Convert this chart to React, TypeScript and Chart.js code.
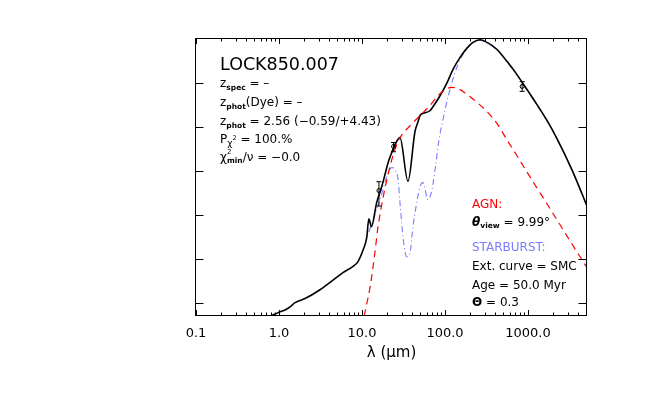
import React, { useEffect, useRef } from "react";
import { Chart, registerables } from "chart.js";

Chart.register(...registerables);

const FONT = '"DejaVu Sans", "Liberation Sans", sans-serif';

// Total model SED (black solid): wavelength (µm) and log flux (arbitrary units)
const TOTAL_WAVE = [0.78, 0.9, 1.03, 1.18, 1.36, 1.56, 2.06, 3.12, 4.48, 5.9, 7.8, 8.95, 10.3, 11.4, 12.1, 13.0, 15.0, 17.3, 18.9, 20.6, 22.8, 25.0, 28.7, 35.8, 43.5, 47.3, 50.0, 54.3, 65.9, 71.6, 87.1, 106, 125, 152, 184, 217, 264, 321, 424, 558, 737, 920, 1283, 1694, 2234, 3388, 5140];
const TOTAL_FLUX = [-0.3, -0.25, -0.2, -0.16, -0.09, 0.01, 0.1, 0.3, 0.52, 0.69, 0.83, 0.94, 1.2, 1.48, 1.91, 1.73, 2.27, 2.64, 2.91, 3.18, 3.41, 3.59, 3.75, 2.76, 3.89, 4.11, 4.25, 4.3, 4.36, 4.45, 4.7, 5.0, 5.3, 5.57, 5.78, 5.91, 5.97, 5.91, 5.75, 5.48, 5.18, 4.91, 4.5, 4.14, 3.73, 3.02, 2.2];

// AGN torus component (red dashed)
const AGN_WAVE = [10.6, 12.5, 14.3, 15.6, 21.7, 26.2, 28.7, 37.9, 50.0, 65.9, 82.4, 103, 121, 152, 184, 243, 321, 424, 558, 737, 1057, 1841, 3206, 5140];
const AGN_FLUX = [-0.3, 0.36, 1.14, 1.73, 3.09, 3.59, 3.75, 4.02, 4.25, 4.48, 4.7, 4.85, 4.89, 4.84, 4.73, 4.55, 4.34, 4.07, 3.7, 3.34, 2.86, 2.14, 1.41, 0.8];

// Starburst component (blue dash-dot)
const SB_WAVE = [12.1, 16.5, 20.6, 22.8, 25.0, 27.2, 28.7, 31.2, 34.6, 37.9, 41.1, 45.6, 50.0, 54.3, 62.4, 69.7, 75.8, 84.7, 94.6, 109, 132, 152, 184, 217, 264, 321, 424, 558, 737, 920, 1283, 1694, 2234, 3388, 5140];
const SB_FLUX = [1.61, 2.34, 2.95, 3.07, 3.02, 2.8, 2.27, 1.5, 1.05, 1.14, 1.73, 2.27, 2.64, 2.73, 2.34, 2.57, 3.02, 3.7, 4.16, 4.68, 5.23, 5.52, 5.77, 5.9, 5.96, 5.9, 5.74, 5.47, 5.17, 4.9, 4.49, 4.13, 3.72, 3.01, 2.19];

// Observed photometry with error bars
const OBS_WAVE = [16, 24, 850];
const OBS_FLUX = [2.55, 3.55, 4.91];
const OBS_LO = [2.2, 3.43, 4.8];
const OBS_HI = [2.75, 3.64, 5.02];

// Axes
const X_MIN = 0.1;
const X_MAX = 5140;
const Y_MIN = -0.295;
const Y_MAX = 6.01;
const X_TICKS = [0.1, 1, 10, 100, 1000];
const X_TICK_LABELS = ["0.1", "1.0", "10.0", "100.0", "1000.0"];
const X_MINOR_MULT = [2, 3, 4, 5, 6, 7, 8, 9];
const Y_TICKS = [0, 1, 2, 3, 4, 5, 6];
const X_TITLE = "λ (μm)";

// Annotation texts
const SOURCE_NAME = "LOCK850.007";
const Z_SPEC = " = –";
const Z_DYE = "(Dye) = –";
const Z_PHOT = " = 2.56 (−0.59/+4.43)";
const P_CHI = " = 100.%";
const CHI_MIN = "/ν = −0.0";
const AGN_TITLE = "AGN:";
const THETA_VIEW = " = 9.99°";
const SB_TITLE = "STARBURST:";
const EXT_CURVE = "Ext. curve = SMC";
const AGE = "Age = 50.0 Myr";
const THETA = " = 0.3";

const RED = "#ff0000";
const BLUE = "#7b7bff";

type Seg = { t: string; size?: number; bold?: boolean; italic?: boolean; dy?: number; stack?: boolean };

function drawRich(ctx: CanvasRenderingContext2D, x: number, y: number, segs: Seg[], color: string) {
  let cx = x;
  let stackW = 0;
  ctx.fillStyle = color;
  ctx.textAlign = "left";
  ctx.textBaseline = "alphabetic";
  for (const s of segs) {
    const size = s.size ?? 12;
    ctx.font = `${s.italic ? "italic " : ""}${s.bold ? "bold " : ""}${size}px ${FONT}`;
    ctx.fillText(s.t, cx, y + (s.dy ?? 0));
    const w = ctx.measureText(s.t).width;
    if (s.stack) {
      stackW = Math.max(stackW, w);
    } else {
      cx += Math.max(w, stackW);
      stackW = 0;
    }
  }
}

const framePlugin = {
  id: "idlFrame",
  afterDraw(chart: any) {
    const { ctx, chartArea: a, scales } = chart;
    const xs = scales.x;
    const ys = scales.y;
    ctx.save();
    ctx.strokeStyle = "#000";
    ctx.lineWidth = 1;
    const L = Math.round(a.left) - 0.5;
    const R = Math.round(a.right) - 0.5;
    const T = Math.round(a.top) + 0.5;
    const B = Math.round(a.bottom) - 0.5;
    ctx.strokeRect(L, T, R - L, B - T);
    ctx.beginPath();
    // x ticks: majors at decades, minors in between (top and bottom)
    for (const d of X_TICKS) {
      const major = Math.round(xs.getPixelForValue(d)) + 0.5;
      ctx.moveTo(major, B); ctx.lineTo(major, B - 5.5);
      ctx.moveTo(major, T); ctx.lineTo(major, T + 5.5);
      for (const m of X_MINOR_MULT) {
        const v = d * m;
        if (v > X_MAX) continue;
        const px = Math.round(xs.getPixelForValue(v)) + 0.5;
        ctx.moveTo(px, B); ctx.lineTo(px, B - 3);
        ctx.moveTo(px, T); ctx.lineTo(px, T + 3);
      }
    }
    for (const v of Y_TICKS) {
      const py = Math.round(ys.getPixelForValue(v)) + 0.5;
      ctx.moveTo(L, py); ctx.lineTo(L + 8, py);
      ctx.moveTo(R, py); ctx.lineTo(R - 8, py);
    }
    ctx.stroke();

    // error bars
    ctx.beginPath();
    OBS_WAVE.forEach((w, i) => {
      const px = xs.getPixelForValue(w);
      const lo = ys.getPixelForValue(OBS_LO[i]);
      const hi = ys.getPixelForValue(OBS_HI[i]);
      ctx.moveTo(px, lo); ctx.lineTo(px, hi);
      ctx.moveTo(px - 2.5, lo); ctx.lineTo(px + 2.5, lo);
      ctx.moveTo(px - 2.5, hi); ctx.lineTo(px + 2.5, hi);
    });
    ctx.stroke();

    // annotations
    const lx = 220;
    drawRich(ctx, lx, 70, [{ t: SOURCE_NAME, size: 17.5 }], "#000");
    drawRich(ctx, lx, 87, [{ t: "z" }, { t: "spec", size: 7.5, bold: true, dy: 3 }, { t: Z_SPEC }], "#000");
    drawRich(ctx, lx, 106, [{ t: "z" }, { t: "phot", size: 7.5, bold: true, dy: 3 }, { t: Z_DYE }], "#000");
    drawRich(ctx, lx, 125, [{ t: "z" }, { t: "phot", size: 7.5, bold: true, dy: 3 }, { t: Z_PHOT }], "#000");
    drawRich(ctx, lx, 143, [{ t: "P" }, { t: "χ", size: 9, dy: 3 }, { t: "2", size: 6.5, dy: -3 }, { t: P_CHI }], "#000");
    drawRich(ctx, lx, 161, [{ t: "χ" }, { t: "2", size: 7, dy: -7, stack: true }, { t: "min", size: 7.5, bold: true, dy: 2 }, { t: CHI_MIN }], "#000");

    const rx = 472;
    drawRich(ctx, rx, 208, [{ t: AGN_TITLE }], RED);
    drawRich(ctx, rx, 226, [{ t: "θ", bold: true, italic: true }, { t: "view", size: 7.5, bold: true, dy: 2 }, { t: THETA_VIEW }], "#000");
    drawRich(ctx, rx, 251, [{ t: SB_TITLE }], BLUE);
    drawRich(ctx, rx, 270, [{ t: EXT_CURVE }], "#000");
    drawRich(ctx, rx, 288.5, [{ t: AGE }], "#000");
    drawRich(ctx, rx, 306, [{ t: "Θ", bold: true }, { t: THETA }], "#000");
    ctx.restore();
  },
};

function toPoints(xs: number[], ys: number[]) {
  return xs.map((x, i) => ({ x, y: ys[i] }));
}

export default function App() {
  const ref = useRef<HTMLCanvasElement>(null);
  useEffect(() => {
    document.body.style.margin = "0";
    const chart = new Chart(ref.current as HTMLCanvasElement, {
      type: "line",
      data: {
        datasets: [
          {
            label: "Observed",
            data: toPoints(OBS_WAVE, OBS_FLUX),
            showLine: false,
            pointRadius: 2,
            pointStyle: "circle",
            borderColor: "#000",
            backgroundColor: "rgba(0,0,0,0)",
            borderWidth: 1,
            order: -1,
          },
          {
            label: "AGN",
            data: toPoints(AGN_WAVE, AGN_FLUX),
            borderColor: RED,
            borderWidth: 1.2,
            borderDash: [7, 5],
            pointRadius: 0,
            cubicInterpolationMode: "monotone",
            order: 0,
          },
          {
            label: "Total",
            data: toPoints(TOTAL_WAVE, TOTAL_FLUX),
            borderColor: "#000",
            borderWidth: 1.6,
            pointRadius: 0,
            cubicInterpolationMode: "monotone",
            order: 1,
          },
          {
            label: "Starburst",
            data: toPoints(SB_WAVE, SB_FLUX),
            borderColor: BLUE,
            borderWidth: 1.1,
            borderDash: [6, 3, 1, 3],
            pointRadius: 0,
            cubicInterpolationMode: "monotone",
            order: 2,
          },
        ],
      },
      options: {
        animation: false,
        responsive: false,
        devicePixelRatio: 1,
        layout: { padding: { left: 196, right: 66, top: 38, bottom: 0 } },
        plugins: { legend: { display: false }, tooltip: { enabled: false } },
        scales: {
          x: {
            type: "logarithmic",
            min: X_MIN,
            max: X_MAX,
            afterBuildTicks: (s: any) => {
              s.ticks = X_TICKS.map((v) => ({ value: v }));
            },
            afterFit: (s: any) => {
              s.height = 80;
            },
            grid: { display: false, drawTicks: false },
            border: { display: false },
            ticks: {
              autoSkip: false,
              maxRotation: 0,
              padding: 10,
              color: "#000",
              font: { family: FONT, size: 13 },
              callback: (v: any) => {
                const i = X_TICKS.findIndex((t) => Math.abs(t - Number(v)) / t < 1e-6);
                return i >= 0 ? X_TICK_LABELS[i] : "";
              },
            },
            title: {
              display: true,
              text: X_TITLE,
              color: "#000",
              font: { family: FONT, size: 15 },
              padding: { top: 0, bottom: 34 },
            },
          },
          y: {
            type: "linear",
            display: false,
            min: Y_MIN,
            max: Y_MAX,
          },
        },
      },
      plugins: [framePlugin],
    } as any);
    return () => chart.destroy();
  }, []);
  return (
    <div style={{ width: 653, height: 396 }}>
      <canvas ref={ref} width={653} height={396} style={{ display: "block" }} />
    </div>
  );
}
